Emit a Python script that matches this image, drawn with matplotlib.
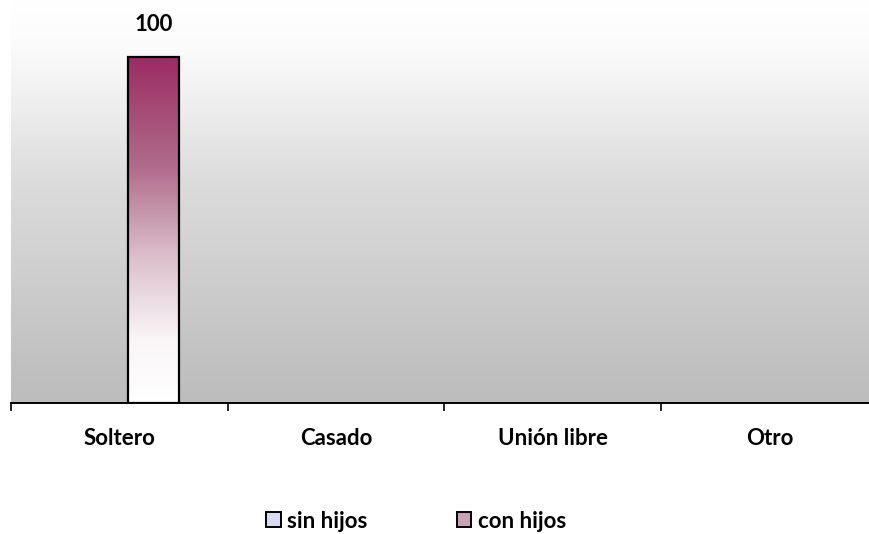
import matplotlib.pyplot as plt
import numpy as np
from matplotlib.colors import LinearSegmentedColormap
from matplotlib.patches import Patch

categories = ['Soltero', 'Casado', 'Unión libre', 'Otro']
sin_hijos = [0, 0, 0, 0]
con_hijos = [100, 0, 0, 0]
series_names = ['sin hijos', 'con hijos']

plt.rcParams['font.family'] = ['Lato', 'DejaVu Sans']

fig = plt.figure(figsize=(8.7, 5.34), dpi=100)
ax = fig.add_axes([11 / 870, 131 / 534, 867 / 870, 403 / 534])

x = np.arange(len(categories))
width = 0.235
offset = 0.159
ymax = 116.5

# gradient background of the plot area
bg = LinearSegmentedColormap.from_list('bg', [(0, '#bdbdbd'), (0.08, '#c0c0c0'),
                                              (0.55, '#dcdcdc'), (0.88, '#fbfbfb'),
                                              (1, '#ffffff')])
grad = np.linspace(0, 1, 256).reshape(-1, 1)
ax.imshow(grad, cmap=bg, aspect='auto', origin='lower',
          extent=[-0.5, len(categories) - 0.5, 0, ymax], zorder=0)

bar_cmap = LinearSegmentedColormap.from_list('bar', [(0, '#ffffff'), (0.18, '#faf6f8'),
                                                     (0.42, '#dcc0cc'), (0.68, '#b06d8b'),
                                                     (1, '#9c2c64')])

bars_sin = ax.bar(x - offset, sin_hijos, width, color='#d9d9f2', edgecolor='black',
                  linewidth=1.6, zorder=2)
bars_con = ax.bar(x + offset, con_hijos, width, color='none', edgecolor='black',
                  linewidth=1.6, zorder=3)

for b, v in zip(bars_con, con_hijos):
    if v <= 0:
        b.set_visible(False)
        continue
    x0, w, h = b.get_x(), b.get_width(), b.get_height()
    im = ax.imshow(grad, cmap=bar_cmap, aspect='auto', origin='lower',
                   extent=[x0, x0 + w, 0, h], zorder=2)
    im.set_clip_path(b)
    ax.text(x0 + w / 2, h + 6.5, f'{v:g}', ha='center', va='bottom',
            fontsize=16, fontweight='bold')
for b, v in zip(bars_sin, sin_hijos):
    if v <= 0:
        b.set_visible(False)

ax.set_xlim(-0.5, len(categories) - 0.5)
ax.set_ylim(0, ymax)
ax.set_yticks([])
ax.set_xticks(np.arange(len(categories) + 1) - 0.5, minor=True)
ax.set_xticks(x)
ax.set_xticklabels(categories, fontsize=16, fontweight='bold')
ax.tick_params(axis='x', which='major', length=0, pad=18)
ax.tick_params(axis='x', which='minor', length=6, width=1.2, color='black')
for s in ['top', 'right', 'left']:
    ax.spines[s].set_visible(False)
ax.spines['bottom'].set_linewidth(1.4)

handles = [Patch(facecolor='#d9d9f2', edgecolor='black', linewidth=1.4),
           Patch(facecolor='#c9a0b4', edgecolor='black', linewidth=1.4)]
leg = fig.legend(handles, series_names, loc='center', bbox_to_anchor=(416 / 870, 1 - 521 / 534),
                 ncol=2, frameon=False, handlelength=0.65, handleheight=0.65,
                 handletextpad=0.3, columnspacing=4.0,
                 prop={'weight': 'bold', 'size': 16})

fig.savefig('out.png', dpi=100, facecolor='white')
